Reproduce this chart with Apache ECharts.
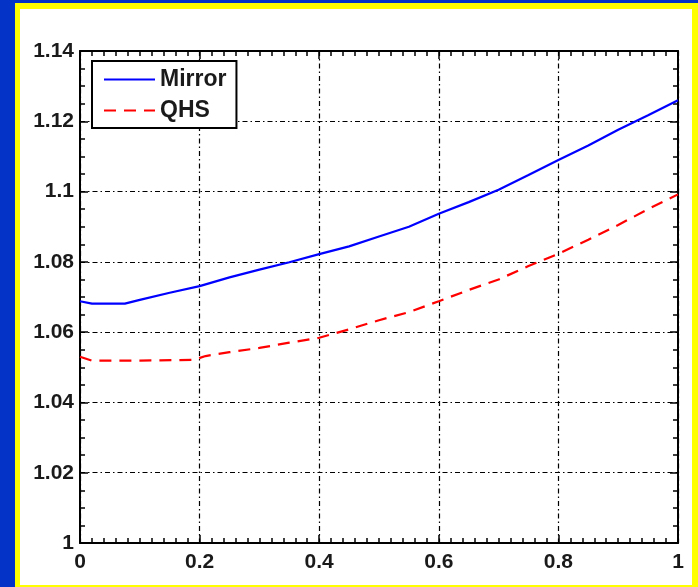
<!DOCTYPE html>
<html>
<head>
<meta charset="utf-8">
<script src="https://cdn.jsdelivr.net/npm/echarts@6/dist/echarts.min.js"></script>
<style>
html,body{margin:0;padding:0;}
body{width:698px;height:587px;background:#0433c8;position:relative;overflow:hidden;}
#yellow{position:absolute;left:15px;top:3px;width:683px;height:584px;background:#ffff00;}
#white{position:absolute;left:20px;top:9px;width:672px;height:576px;background:#ffffff;}
#chart{position:absolute;left:0;top:0;width:698px;height:587px;}
</style>
</head>
<body>
<div id="yellow"></div>
<div id="white"></div>
<div id="chart"></div>
<script>
const seriesNames = ['Mirror', 'QHS'];
const mirrorX = [0, 0.02, 0.05, 0.075, 0.1, 0.15, 0.2, 0.25, 0.3, 0.35, 0.4, 0.45, 0.5, 0.55, 0.6, 0.65, 0.7, 0.75, 0.8, 0.85, 0.9, 0.95, 1.0];
const mirrorY = [1.0688, 1.0681, 1.0681, 1.0681, 1.0692, 1.0712, 1.0731, 1.0756, 1.0778, 1.0799, 1.0822, 1.0844, 1.0872, 1.0900, 1.0937, 1.0970, 1.1005, 1.1047, 1.1090, 1.1131, 1.1176, 1.1217, 1.1260];
const qhsX = [0, 0.02, 0.1, 0.19, 0.21, 0.25, 0.3, 0.35, 0.4, 0.45, 0.5, 0.55, 0.6, 0.65, 0.7, 0.75, 0.8, 0.85, 0.9, 0.95, 1.0];
const qhsY = [1.0530, 1.0519, 1.0519, 1.0521, 1.0532, 1.0543, 1.0555, 1.0570, 1.0584, 1.0608, 1.0634, 1.0657, 1.0688, 1.0720, 1.0750, 1.0788, 1.0823, 1.0863, 1.0905, 1.0950, 1.0992];
const xTicks = [0, 0.2, 0.4, 0.6, 0.8, 1];
const yTicks = [1, 1.02, 1.04, 1.06, 1.08, 1.1, 1.12, 1.14];

const fmtX = v => String(Math.round(v * 10) / 10);
const fmtY = v => String(Math.round(v * 100) / 100);

const chart = echarts.init(document.getElementById('chart'), null, {renderer: 'canvas'});
const axisLine = {show: true, onZero: false, lineStyle: {color: '#000', width: 2}};
const gridLine = {show: true, lineStyle: {color: '#000', width: 1.2, type: [5, 3, 1.5, 3]}};
const tick = {show: true, inside: true, length: 8, lineStyle: {color: '#000', width: 1.5}};
const labelFont = {fontFamily: 'Liberation Sans', fontSize: 21, fontWeight: 'bold', color: '#1a1a1a'};
chart.setOption({
  backgroundColor: 'transparent',
  animation: false,
  grid: {left: 80, right: 20, top: 51, bottom: 44, containLabel: false},
  legend: {
    left: 92, top: 61, orient: 'vertical',
    data: seriesNames,
    itemWidth: 51, itemHeight: 14, itemGap: 8,
    padding: [7, 10, 6, 11],
    borderColor: '#000', borderWidth: 2, backgroundColor: '#fff',
    itemStyle: {opacity: 0},
    textStyle: {fontFamily: 'Liberation Sans', fontSize: 23, fontWeight: 'bold', color: '#1a1a1a', lineHeight: 23}
  },
  xAxis: [{
    type: 'value', min: 0, max: 1, interval: 0.2, position: 'bottom',
    axisLine: axisLine, axisTick: tick,
    minorTick: {show: true, splitNumber: 10, length: 5, lineStyle: {color: '#000', width: 1.5}},
    splitLine: gridLine,
    axisLabel: Object.assign({margin: 9, formatter: v => xTicks.includes(Math.round(v*10)/10) ? fmtX(v) : ''}, labelFont)
  }, {
    type: 'value', min: 0, max: 1, interval: 0.2, position: 'top',
    axisLine: axisLine, axisTick: tick,
    minorTick: {show: true, splitNumber: 10, length: 5, lineStyle: {color: '#000', width: 1.5}},
    splitLine: {show: false}, axisLabel: {show: false}
  }],
  yAxis: [{
    type: 'value', min: 1, max: 1.14, interval: 0.02, position: 'left',
    axisLine: axisLine, axisTick: tick,
    minorTick: {show: true, splitNumber: 4, length: 5, lineStyle: {color: '#000', width: 1.5}},
    splitLine: gridLine,
    axisLabel: Object.assign({margin: 6, formatter: v => yTicks.includes(Math.round(v*100)/100) ? fmtY(v) : ''}, labelFont)
  }, {
    type: 'value', min: 1, max: 1.14, interval: 0.02, position: 'right',
    axisLine: axisLine, axisTick: tick,
    minorTick: {show: true, splitNumber: 4, length: 5, lineStyle: {color: '#000', width: 1.5}},
    splitLine: {show: false}, axisLabel: {show: false}
  }],
  series: [{
    name: seriesNames[0], type: 'line', symbol: 'none', xAxisIndex: 0, yAxisIndex: 0,
    data: mirrorX.map((x, i) => [x, mirrorY[i]]),
    lineStyle: {color: '#0000ff', width: 2.2},
    itemStyle: {color: '#0000ff'}
  }, {
    name: seriesNames[1], type: 'line', symbol: 'none', xAxisIndex: 0, yAxisIndex: 0,
    data: qhsX.map((x, i) => [x, qhsY[i]]),
    lineStyle: {color: '#ff0000', width: 2.2, type: [12, 8]},
    itemStyle: {color: '#ff0000'}
  }]
});
</script>
</body>
</html>
